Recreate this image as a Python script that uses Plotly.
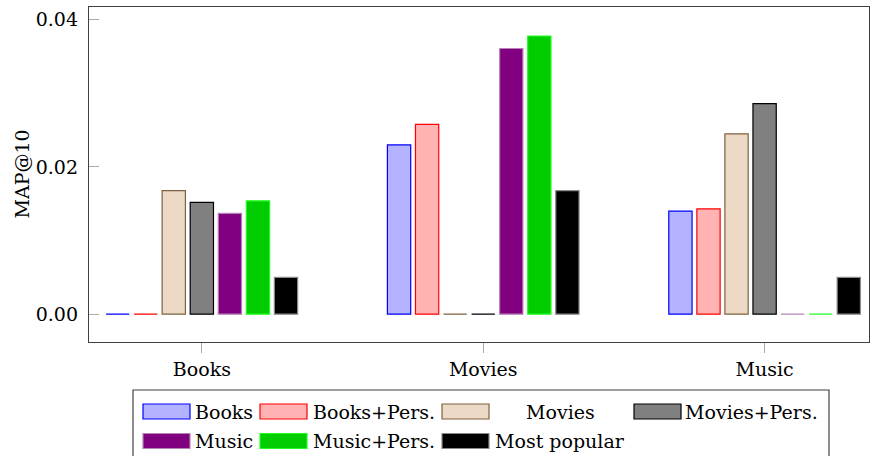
import plotly.graph_objects as go

# Datasets on the x axis
categories = ["Books", "Movies", "Music"]

# MAP@10 per recommender model, one value per dataset
series_names = ["Books", "Books+Pers.", "Movies", "Movies+Pers.",
                "Music", "Music+Pers.", "Most popular"]
books_vals = [0.0, 0.0230, 0.0140]
books_pers_vals = [0.0, 0.0258, 0.0143]
movies_vals = [0.0168, 0.0, 0.0245]
movies_pers_vals = [0.0152, 0.0, 0.0286]
music_vals = [0.0137, 0.0361, 0.0]
music_pers_vals = [0.0154, 0.0378, 0.0]
popular_vals = [0.0050, 0.0168, 0.0050]

y_tick_vals = [0.0, 0.02, 0.04]
y_tick_text = ["0.00", "0.02", "0.04"]

series_vals = [books_vals, books_pers_vals, movies_vals, movies_pers_vals,
               music_vals, music_pers_vals, popular_vals]
fills = ["#b3b3ff", "#ffb3b3", "#ecd9c6", "#808080", "#800080", "#00cc00", "#000000"]
edges = ["#0000ff", "#ff0000", "#80603f", "#000000", "#b784b7", "#22ff22", "#8a8a8a"]

W, H = 870, 456
ML, MR, MT, MB = 89, 1, 7, 114
PW, PH = W - ML - MR, H - MT - MB
FONT = "DejaVu Serif"


def px(x):
    return (x - ML) / PW


def py(y):
    return (H - MB - y) / PH


fig = go.Figure()
for name, vals, fc, ec in zip(series_names, series_vals, fills, edges):
    fig.add_trace(go.Bar(
        x=categories, y=vals, name=name,
        marker=dict(color=fc, line=dict(color=ec, width=1.2)),
        showlegend=False,
    ))

# Legend drawn as a boxed two-row table with wide swatches
shapes = [dict(type="rect", xref="paper", yref="paper",
               x0=px(133), x1=px(829), y0=py(470), y1=py(390),
               line=dict(color="#404040", width=1.2), fillcolor="white",
               layer="below")]
annotations = []
swatch_x = [143, 260, 442, 634]
text_cx = [224, 374, 560, 751]
row_y = [411.5, 441]
for i, (name, fc, ec) in enumerate(zip(series_names, fills, edges)):
    row, col = divmod(i, 4)
    cy = row_y[row]
    shapes.append(dict(type="rect", xref="paper", yref="paper",
                       x0=px(swatch_x[col]), x1=px(swatch_x[col] + 47),
                       y0=py(cy + 7.5), y1=py(cy - 7.5),
                       fillcolor=fc, line=dict(color=ec, width=1.2)))
    annotations.append(dict(text=name, xref="paper", yref="paper",
                            x=px(text_cx[col]), y=py(cy), xanchor="center",
                            yanchor="middle", showarrow=False,
                            font=dict(family=FONT, size=19, color="black")))

annotations.append(dict(text="MAP@10", xref="paper", yref="paper",
                        x=px(21), y=0.5, textangle=-90, showarrow=False,
                        xanchor="center", yanchor="middle",
                        font=dict(family=FONT, size=19, color="black")))

fig.update_layout(
    width=W, height=H,
    margin=dict(l=ML, r=MR, t=MT, b=MB, autoexpand=False),
    paper_bgcolor="white", plot_bgcolor="white",
    barmode="group", bargap=0.302, bargroupgap=0.17,
    font=dict(family=FONT, size=19, color="black"),
    shapes=shapes, annotations=annotations,
    xaxis=dict(range=[-0.401, 2.371], showgrid=False, zeroline=False,
               showline=True, linecolor="#404040", linewidth=1.3, mirror=True,
               ticks="outside", ticklen=10, tickcolor="#aaaaaa", tickwidth=1.2,
               tickfont=dict(family=FONT, size=19)),
    yaxis=dict(range=[-0.00378, 0.04174], showgrid=False, zeroline=False,
               showline=True, linecolor="#404040", linewidth=1.3, mirror=True,
               ticks="inside", ticklen=10, tickcolor="#aaaaaa", tickwidth=1.2,
               tickvals=y_tick_vals, ticktext=y_tick_text,
               tickfont=dict(family=FONT, size=19), ticklabelstandoff=6),
)

fig.write_html("out.html")
